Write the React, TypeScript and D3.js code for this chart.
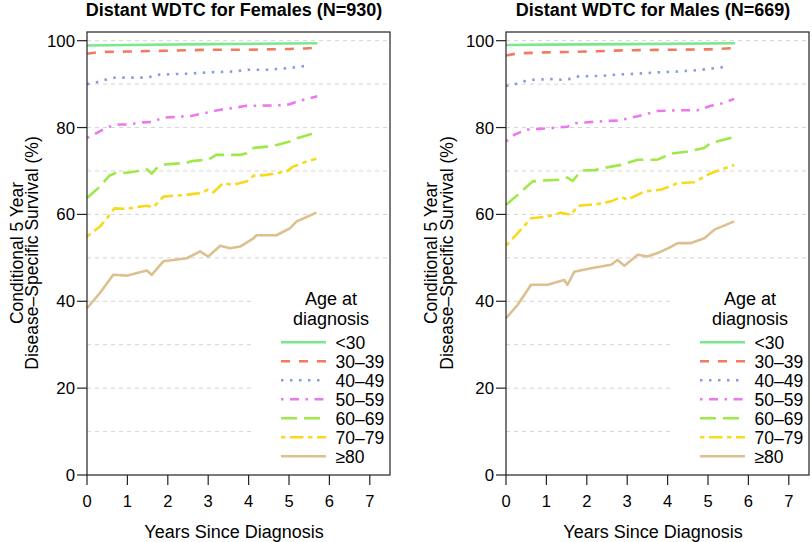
import React from "react";
import * as d3 from "d3";

type Pt = [number, number];

const xTicks = [0, 1, 2, 3, 4, 5, 6, 7];
const yTicks = [0, 20, 40, 60, 80, 100];
const gridVals = [10, 20, 30, 40, 50, 60, 70, 80, 90, 100];
const ageGroups = ["<30", "30–39", "40–49", "50–59", "60–69", "70–79", "≥80"];
const groupColors = ["#7AE88E", "#F07B5F", "#8C9BDD", "#EC78F0", "#9EE848", "#F7D91E", "#DCC08F"];
const groupDashes = ["", "9,9", "2.5,6.5", "2.5,6.5,9,6.5", "16,7", "4.5,4.5,13.5,4.5", ""];

// Females (N=930)
const femLt30: Pt[] = [[0, 98.9], [1, 99.0], [3, 99.2], [5.7, 99.4]];
const fem30_39: Pt[] = [[0, 97.0], [0.3, 97.4], [1, 97.5], [2, 97.7], [3, 97.9], [4, 97.9], [5, 98.1], [5.4, 98.2], [5.7, 98.4]];
const fem40_49: Pt[] = [[0, 90.0], [0.2, 90.3], [0.45, 91.0], [0.7, 91.5], [1.5, 91.5], [1.8, 92.2], [2.5, 92.4], [3.0, 92.7], [3.6, 92.9], [4.0, 93.3], [4.5, 93.3], [5.0, 93.7], [5.5, 94.3]];
const fem50_59: Pt[] = [[0, 77.6], [0.15, 78.3], [0.35, 79.3], [0.55, 80.2], [0.8, 80.7], [1.0, 80.7], [1.4, 81.2], [1.6, 81.3], [1.9, 82.3], [2.1, 82.4], [2.6, 82.7], [2.9, 83.3], [3.3, 84.1], [3.6, 84.5], [3.95, 85.0], [4.7, 85.1], [5.0, 85.3], [5.2, 86.0], [5.45, 86.6], [5.7, 87.2]];
const fem60_69: Pt[] = [[0, 63.8], [0.32, 66.4], [0.55, 68.9], [0.7, 69.5], [0.98, 69.6], [1.2, 69.9], [1.48, 70.4], [1.6, 69.4], [1.75, 70.9], [1.89, 71.5], [2.2, 71.7], [2.47, 71.9], [2.6, 72.3], [3.0, 72.6], [3.2, 73.7], [3.79, 73.7], [3.95, 74.1], [4.12, 75.3], [4.45, 75.6], [4.7, 76.0], [5.02, 76.8], [5.1, 77.3], [5.33, 77.9], [5.68, 78.9]];
const fem70_79: Pt[] = [[0, 54.9], [0.32, 57.2], [0.56, 59.9], [0.68, 61.4], [0.98, 61.3], [1.31, 61.8], [1.48, 62.0], [1.64, 61.6], [1.89, 64.1], [2.14, 64.3], [2.47, 64.5], [2.8, 64.9], [3.0, 65.7], [3.13, 65.1], [3.37, 67.2], [3.62, 66.8], [3.95, 67.6], [4.12, 68.9], [4.45, 69.1], [4.94, 69.9], [5.1, 71.0], [5.44, 72.2], [5.68, 72.8]];
const femGe80: Pt[] = [[0, 38.4], [0.32, 41.9], [0.65, 46.1], [0.98, 45.9], [1.48, 47.1], [1.6, 46.1], [1.89, 49.2], [2.47, 49.9], [2.8, 51.5], [3.0, 50.3], [3.3, 52.8], [3.54, 52.2], [3.79, 52.6], [4.12, 54.5], [4.2, 55.2], [4.69, 55.2], [5.02, 56.8], [5.19, 58.4], [5.44, 59.4], [5.68, 60.4]];

// Males (N=669)
const maleLt30: Pt[] = [[0, 99.0], [1, 99.1], [3, 99.2], [5.67, 99.4]];
const male30_39: Pt[] = [[0, 96.6], [0.3, 97.1], [1, 97.3], [2, 97.5], [3, 97.8], [4, 97.9], [5, 98.0], [5.65, 98.3]];
const male40_49: Pt[] = [[0, 89.6], [0.2, 89.9], [0.41, 90.6], [0.66, 91.0], [1.2, 91.2], [1.37, 91.0], [1.6, 91.2], [1.8, 91.8], [2.4, 91.9], [2.76, 92.2], [3.26, 92.4], [3.75, 92.7], [4.25, 92.9], [4.74, 93.2], [5.2, 93.7], [5.44, 94.0]];
const male50_59: Pt[] = [[0, 76.8], [0.2, 78.3], [0.49, 79.5], [1.03, 79.8], [1.52, 80.2], [1.73, 81.0], [2.43, 81.5], [2.76, 81.6], [3.26, 82.6], [3.75, 83.8], [4.33, 84.0], [4.74, 84.0], [5.07, 85.0], [5.4, 85.7], [5.65, 86.6]];
const male60_69: Pt[] = [[0, 62.2], [0.29, 64.5], [0.66, 67.6], [0.95, 67.8], [1.36, 68.0], [1.52, 68.5], [1.65, 67.7], [1.86, 70.1], [2.19, 70.2], [2.6, 71.0], [2.85, 71.4], [3.26, 72.6], [3.75, 72.6], [4.08, 74.0], [4.5, 74.5], [4.9, 75.3], [5.07, 76.4], [5.65, 77.8]];
const male70_79: Pt[] = [[0, 52.8], [0.29, 55.7], [0.62, 59.1], [1.03, 59.5], [1.36, 60.4], [1.61, 59.9], [1.78, 62.0], [2.27, 62.4], [2.6, 63.0], [2.85, 64.0], [3.01, 63.4], [3.43, 65.3], [3.84, 65.7], [4.25, 67.2], [4.66, 67.4], [5.07, 69.5], [5.65, 71.4]];
const maleGe80: Pt[] = [[0, 36.1], [0.29, 39.2], [0.62, 43.8], [1.03, 43.8], [1.44, 44.9], [1.52, 43.8], [1.69, 46.8], [2.1, 47.6], [2.6, 48.4], [2.76, 49.5], [2.93, 48.2], [3.26, 50.7], [3.5, 50.3], [3.75, 51.1], [4.08, 52.5], [4.25, 53.4], [4.58, 53.4], [4.91, 54.5], [5.16, 56.5], [5.65, 58.4]];

const femaleSeries = [femLt30, fem30_39, fem40_49, fem50_59, fem60_69, fem70_79, femGe80];
const maleSeries = [maleLt30, male30_39, male40_49, male50_59, male60_69, male70_79, maleGe80];

const FONT = "Liberation Sans, Arial, Helvetica, sans-serif";

function Panel({ ox, title, series }: { ox: number; title: string; series: Pt[][] }) {
  const left = 87 + ox;
  const right = 390 + ox;
  const top = 32;
  const bottom = 475;
  const x = d3.scaleLinear().domain([0, 7.5]).range([left, right]);
  const y = d3.scaleLinear().domain([0, 102]).range([bottom, top]);
  const line = d3
    .line<Pt>()
    .x((d) => x(d[0]))
    .y((d) => y(d[1]));
  const cx = (left + right) / 2 - 4.5;
  const legX = 281 + ox;
  const legRow0 = 342.3;
  const legStep = 19;
  return (
    <g>
      <text x={cx} y={16} textAnchor="middle" fontWeight="bold" fontSize={18} fontFamily={FONT}>
        {title}
      </text>
      {gridVals.map((g) => (
        <line key={g} x1={left} x2={right} y1={y(g)} y2={y(g)} stroke="#d4d4d4" strokeWidth={1} strokeDasharray="4,4" />
      ))}
      <rect x={253 + ox} y={282} width={right - 253 - ox - 1} height={191} fill="#fff" />
      {series.map((s, i) => (
        <path
          key={i}
          d={line(s) || ""}
          fill="none"
          stroke={groupColors[i]}
          strokeWidth={2.6}
          strokeDasharray={groupDashes[i] || undefined}
          strokeLinejoin="round"
        />
      ))}
      <rect x={left} y={top} width={right - left} height={bottom - top} fill="none" stroke="#333" strokeWidth={1.3} />
      {yTicks.map((t) => (
        <g key={t}>
          <line x1={left - 10} x2={left} y1={y(t)} y2={y(t)} stroke="#222" strokeWidth={1.2} />
          <text x={left - 12} y={y(t)} dy="0.36em" textAnchor="end" fontSize={16.8} fontFamily={FONT}>
            {t}
          </text>
        </g>
      ))}
      {xTicks.map((t) => (
        <g key={t}>
          <line x1={x(t)} x2={x(t)} y1={bottom} y2={bottom + 10} stroke="#222" strokeWidth={1.2} />
          <text x={x(t)} y={507.3} textAnchor="middle" fontSize={16.5} fontFamily={FONT}>
            {t}
          </text>
        </g>
      ))}
      <text x={cx} y={538} textAnchor="middle" fontSize={18} fontFamily={FONT}>
        Years Since Diagnosis
      </text>
      <text transform={`translate(${ox * 0.99 + 22.5},${253}) rotate(-90)`} textAnchor="middle" fontSize={17.5} fontFamily={FONT}>
        Conditional 5 Year
      </text>
      <text transform={`translate(${ox * 0.99 + 38},${253}) rotate(-90)`} textAnchor="middle" fontSize={17.5} fontFamily={FONT}>
        Disease–Specific Survival (%)
      </text>
      <text x={331 + ox} y={305} textAnchor="middle" fontSize={18} fontFamily={FONT}>
        Age at
      </text>
      <text x={331 + ox} y={325} textAnchor="middle" fontSize={18} fontFamily={FONT}>
        diagnosis
      </text>
      {ageGroups.map((g, i) => (
        <g key={g}>
          <line
            x1={legX}
            x2={legX + 45}
            y1={legRow0 + i * legStep}
            y2={legRow0 + i * legStep}
            stroke={groupColors[i]}
            strokeWidth={2.6}
            strokeDasharray={groupDashes[i] || undefined}
          />
          <text x={legX + 54.5} y={legRow0 + i * legStep} dy="0.36em" fontSize={17.5} fontFamily={FONT}>
            {g}
          </text>
        </g>
      ))}
    </g>
  );
}

export default function App() {
  return (
    <svg
      width={812}
      height={542}
      style={{ position: "absolute", left: 0, top: 0, background: "#fff" }}
      xmlns="http://www.w3.org/2000/svg"
    >
      <rect width={812} height={542} fill="#fff" />
      <Panel ox={0} title="Distant WDTC for Females (N=930)" series={femaleSeries} />
      <Panel ox={419} title="Distant WDTC for Males (N=669)" series={maleSeries} />
    </svg>
  );
}
